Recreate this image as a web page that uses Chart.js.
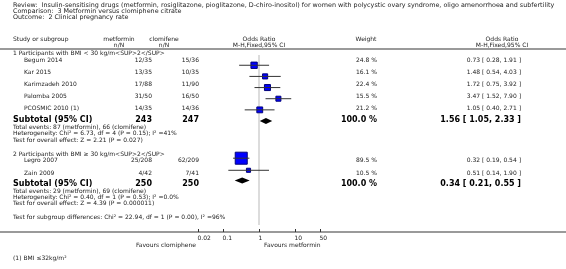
<!DOCTYPE html>
<html lang="en">
<head>
<meta charset="UTF-8">
<title>Clinical pregnancy rate</title>
<script src="https://cdn.jsdelivr.net/npm/chart.js"></script>
<style>
  body { margin: 0; background: #fff; }
  #forest { display: block; }
</style>
</head>
<body>
<canvas id="forest" width="566" height="269"></canvas>
<script>
// study data
var studies   = ['Begum 2014', 'Kar 2015', 'Karimzadeh 2010', 'Palomba 2005', 'PCOSMIC 2010 (1)', 'Legro 2007', 'Zain 2009'];
var subgroup  = [1, 1, 1, 1, 1, 2, 2];
var metEvents = [12, 13, 17, 31, 14, 25, 4];
var metTotal  = [35, 35, 88, 50, 35, 208, 42];
var cloEvents = [15, 10, 11, 16, 14, 62, 7];
var cloTotal  = [36, 35, 90, 50, 36, 209, 41];
var weights   = [24.8, 16.1, 22.4, 15.5, 21.2, 89.5, 10.5];
var oddsRatio = [0.73, 1.48, 1.72, 3.47, 1.05, 0.32, 0.51];
var ciLow     = [0.28, 0.54, 0.75, 1.52, 0.40, 0.19, 0.14];
var ciHigh    = [1.91, 4.03, 3.92, 7.90, 2.71, 0.54, 1.90];

// subtotals
var subMetTotal = [243, 250];
var subCloTotal = [247, 250];
var subOr   = [1.56, 0.34];
var subLow  = [1.05, 0.21];
var subHigh = [2.33, 0.55];

var axisTicks = [0.02, 0.1, 1, 10, 50];
var tickLabels = ['0.02', '0.1', '1', '10', '50'];

// layout (pixel rows / columns)
var studyY = [60, 72, 84, 96, 108, 160, 173];
var subtotalY = [120, 184];
var colMetR = 152, colCloR = 199, colWtR = 377, colOrR = 521;
var axisY = 232;

var FONT = '"DejaVu Sans", sans-serif';

function fmt(v) { return v.toFixed(2); }

var ciSets = studies.map(function (s, i) {
    return {
        type: 'line',
        data: [{ x: ciLow[i], y: studyY[i] }, { x: ciHigh[i], y: studyY[i] }],
        borderColor: '#333',
        borderWidth: 1,
        pointRadius: 0
    };
});

var squares = {
    type: 'scatter',
    data: oddsRatio.map(function (v, i) { return { x: v, y: studyY[i] }; }),
    pointStyle: 'rect',
    pointRadius: weights.map(function (w) { return 1.27 * Math.sqrt(w) / Math.SQRT2; }),
    backgroundColor: '#0000ff',
    borderColor: '#00007a',
    borderWidth: 1
};

function txt(ctx, s, x, y, align, font, color) {
    ctx.font = font;
    ctx.textAlign = align;
    ctx.textBaseline = 'middle';
    ctx.fillStyle = color || '#222';
    ctx.fillText(s, x, y);
}

var forestPlugin = {
    id: 'forest',
    beforeDatasetsDraw: function (chart) {
        var ctx = chart.ctx, xs = chart.scales.x, ys = chart.scales.y;
        var x1 = xs.getPixelForValue(1);
        ctx.save();
        // line of no effect
        ctx.strokeStyle = '#dcdcdc';
        ctx.lineWidth = 2;
        ctx.beginPath();
        ctx.moveTo(x1, ys.getPixelForValue(49));
        ctx.lineTo(x1, ys.getPixelForValue(axisY));
        ctx.stroke();
        // header rule and axis rule
        ctx.strokeStyle = '#9a9a9a';
        ctx.lineWidth = 2;
        [49, axisY].forEach(function (y) {
            ctx.beginPath();
            ctx.moveTo(0, y);
            ctx.lineTo(566, y);
            ctx.stroke();
        });
        ctx.restore();
    },
    afterDatasetsDraw: function (chart) {
        var ctx = chart.ctx, xs = chart.scales.x, ys = chart.scales.y;
        var f = '6px ' + FONT, ft = '6.4px ' + FONT, fb = 'bold 8px ' + FONT;
        var xc = xs.getPixelForValue(1);
        ctx.save();

        // diamonds
        ctx.fillStyle = '#000';
        subOr.forEach(function (v, i) {
            var y = ys.getPixelForValue(subtotalY[i]);
            ctx.beginPath();
            ctx.moveTo(xs.getPixelForValue(subLow[i]), y);
            ctx.lineTo(xs.getPixelForValue(v), y - 3);
            ctx.lineTo(xs.getPixelForValue(subHigh[i]), y);
            ctx.lineTo(xs.getPixelForValue(v), y + 3);
            ctx.closePath();
            ctx.fill();
        });

        // title block
        txt(ctx, 'Review:  Insulin-sensitising drugs (metformin, rosiglitazone, pioglitazone, D-chiro-inositol) for women with polycystic ovary syndrome, oligo amenorrhoea and subfertility', 13, 5, 'left', ft);
        txt(ctx, 'Comparison:  3 Metformin versus clomiphene citrate', 13, 11, 'left', ft);
        txt(ctx, 'Outcome:  2 Clinical pregnancy rate', 13, 17, 'left', ft);

        // column headers
        txt(ctx, 'Study or subgroup', 13, 39, 'left', f);
        txt(ctx, 'metformin', 119, 39, 'center', f);
        txt(ctx, 'n/N', 119, 45, 'center', f);
        txt(ctx, 'clomifene', 164, 39, 'center', f);
        txt(ctx, 'n/N', 164, 45, 'center', f);
        txt(ctx, 'Odds Ratio', xc, 39, 'center', f);
        txt(ctx, 'M-H,Fixed,95% CI', xc, 45, 'center', f);
        txt(ctx, 'Weight', 366, 39, 'center', f);
        txt(ctx, 'Odds Ratio', 502, 39, 'center', f);
        txt(ctx, 'M-H,Fixed,95% CI', 502, 45, 'center', f);

        // subgroup headings
        txt(ctx, '1 Participants with BMI < 30 kg/m<SUP>2</SUP>', 13, 53, 'left', f);
        txt(ctx, '2 Participants with BMI \u2265 30 kg/m<SUP>2</SUP>', 13, 154, 'left', f);

        // study rows
        studies.forEach(function (s, i) {
            var y = studyY[i];
            txt(ctx, s, 24, y, 'left', f);
            txt(ctx, metEvents[i] + '/' + metTotal[i], colMetR, y, 'right', f);
            txt(ctx, cloEvents[i] + '/' + cloTotal[i], colCloR, y, 'right', f);
            txt(ctx, weights[i].toFixed(1) + ' %', colWtR, y, 'right', f);
            txt(ctx, fmt(oddsRatio[i]) + ' [ ' + fmt(ciLow[i]) + ', ' + fmt(ciHigh[i]) + ' ]', colOrR, y, 'right', f);
        });

        // subtotals
        subOr.forEach(function (v, i) {
            var y = subtotalY[i];
            txt(ctx, 'Subtotal (95% CI)', 13, y, 'left', fb, '#000');
            txt(ctx, String(subMetTotal[i]), colMetR, y, 'right', fb, '#000');
            txt(ctx, String(subCloTotal[i]), colCloR, y, 'right', fb, '#000');
            txt(ctx, '100.0 %', colWtR, y, 'right', fb, '#000');
            txt(ctx, fmt(v) + ' [ ' + fmt(subLow[i]) + ', ' + fmt(subHigh[i]) + ' ]', colOrR, y, 'right', fb, '#000');
        });

        // summary lines
        txt(ctx, 'Total events: 87 (metformin), 66 (clomifene)', 13, 127, 'left', f);
        txt(ctx, 'Heterogeneity: Chi\u00b2 = 6.73, df = 4 (P = 0.15); I\u00b2 =41%', 13, 133, 'left', f);
        txt(ctx, 'Test for overall effect: Z = 2.21 (P = 0.027)', 13, 140, 'left', f);
        txt(ctx, 'Total events: 29 (metformin), 69 (clomifene)', 13, 191, 'left', f);
        txt(ctx, 'Heterogeneity: Chi\u00b2 = 0.40, df = 1 (P = 0.53); I\u00b2 =0.0%', 13, 197, 'left', f);
        txt(ctx, 'Test for overall effect: Z = 4.39 (P = 0.000011)', 13, 203, 'left', f);
        txt(ctx, 'Test for subgroup differences: Chi\u00b2 = 22.94, df = 1 (P = 0.00), I\u00b2 =96%', 13, 217, 'left', f);

        // axis ticks
        ctx.strokeStyle = '#333';
        ctx.lineWidth = 1;
        axisTicks.forEach(function (t, i) {
            var x = Math.round(xs.getPixelForValue(t)) + 0.5;
            ctx.beginPath();
            ctx.moveTo(x, axisY - 3);
            ctx.lineTo(x, axisY);
            ctx.stroke();
            txt(ctx, tickLabels[i], x - 1, axisY + 6, 'left', f);
        });
        txt(ctx, 'Favours clomiphene', xs.getPixelForValue(0.02) - 2, 245, 'right', f);
        txt(ctx, 'Favours metformin', xc + 5, 245, 'left', f);

        // footnote
        txt(ctx, '(1) BMI \u226432kg/m\u00b2', 13, 258, 'left', f);
        ctx.restore();
    }
};

new Chart(document.getElementById('forest').getContext('2d'), {
    data: { datasets: ciSets.concat([squares]) },
    options: {
        responsive: false,
        animation: false,
        events: [],
        layout: { padding: { left: 198, right: 246, top: 0, bottom: 0 } },
        plugins: { legend: { display: false }, tooltip: { enabled: false } },
        scales: {
            x: { type: 'logarithmic', min: 0.02, max: 50, display: false },
            y: { type: 'linear', min: 0, max: 269, reverse: true, display: false }
        }
    },
    plugins: [forestPlugin]
});
</script>
</body>
</html>
